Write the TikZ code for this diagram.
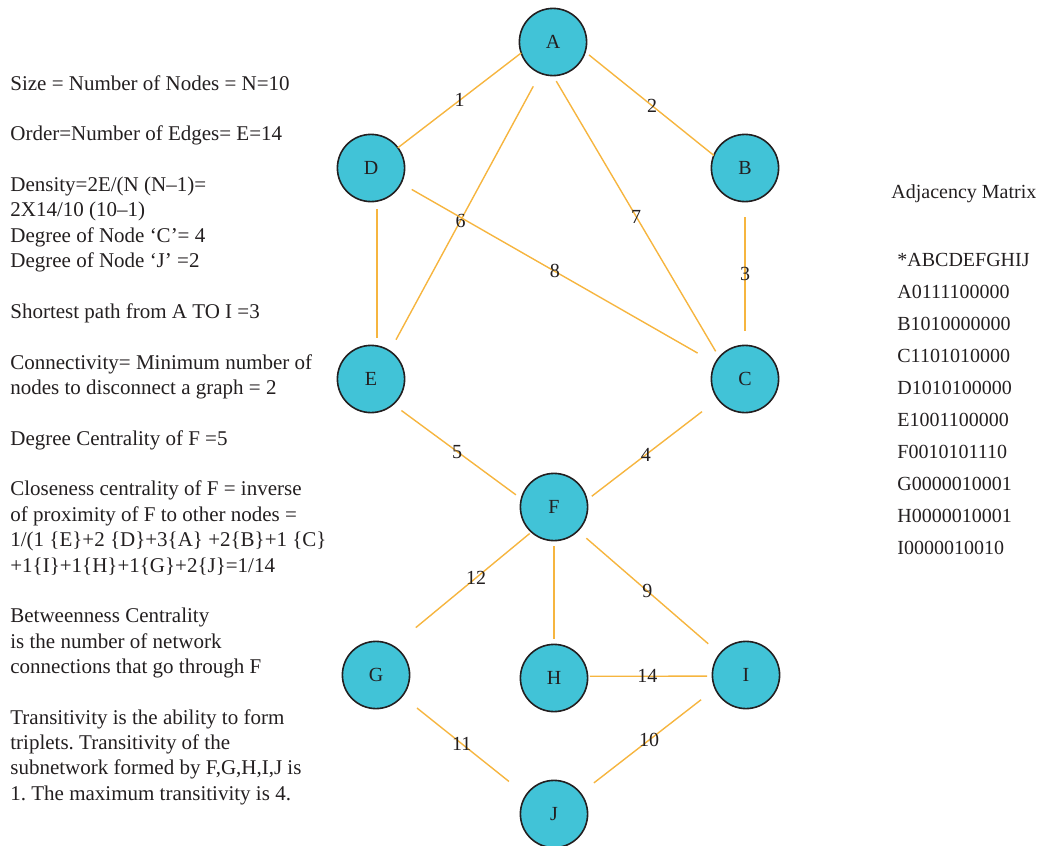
\documentclass[tikz,border=0pt]{standalone}
\usepackage{fontspec}
\setmainfont{Liberation Serif}
\frenchspacing
\definecolor{nodecyan}{HTML}{41C3D7}
\definecolor{edgeorange}{HTML}{F6B53F}
\definecolor{inkgray}{HTML}{231F20}
\tikzset{
  vertex/.style = {circle, draw=inkgray, line width=0.8pt, fill=nodecyan,
                   minimum size=33.6pt, inner sep=0pt, outer sep=0pt,
                   text=inkgray, font=\fontsize{10}{11}\selectfont},
  link/.style   = {draw=edgeorange, line width=0.7pt},
  weight/.style = {inner sep=0pt, text=inkgray, font=\fontsize{10}{12}\selectfont},
  info/.style   = {anchor=north west, align=left, inner sep=0pt, text=inkgray,
                   font=\fontsize{10.5}{12.68}\selectfont},
  adjrows/.style = {anchor=north west, align=left, inner sep=0pt, text=inkgray,
                   font=\fontsize{10}{16}\selectfont},
}

\begin{document}
\begin{tikzpicture}[x=0.5pt, y=-0.5pt]
      \useasboundingbox (0,0) rectangle (1046,846);

      % graph
      \node[vertex] (A) at (553, 42)  {A};
      \node[vertex] (D) at (371, 168) {D};
      \node[vertex] (B) at (745, 168) {B};
      \node[vertex] (E) at (371, 379) {E};
      \node[vertex] (C) at (745, 379) {C};
      \node[vertex] (F) at (554, 507) {F};
      \node[vertex] (G) at (376, 675) {G};
      \node[vertex] (H) at (554, 678) {H};
      \node[vertex] (I) at (746, 675) {I};
      \node[vertex] (J) at (554, 814) {J};

      \draw[link] (A.199) -- node[weight,pos=0.5]{1} (D.37);
      \draw[link, shorten <=2.5pt] (A.-17) -- node[weight,pos=0.52]{2} (B.158);
      \draw[link, shorten <=3.9pt, shorten >=3.9pt] (D.-80) -- (E.80);
      \draw[link, shorten <=7.5pt, shorten >=6.5pt] (A.248) -- node[weight,pos=0.53]{6} (E.56);
      \draw[link, shorten <=3.2pt, shorten >=3.5pt] (A.270) -- node[weight,pos=0.5]{7} (C.140);
      \draw[link, shorten <=6.2pt, shorten >=10.2pt] (D.-27) -- node[weight,pos=0.49]{8} (C.152);
      \draw[link, shorten <=7.7pt, shorten >=7.2pt] (B.-90) -- node[weight,pos=0.5]{3} (C.90);
      \draw[link, shorten <=5.2pt, shorten >=3.4pt] (E.-49) -- node[weight,pos=0.5]{5} (F.166);
      \draw[link, shorten <=10.2pt, shorten >=3.1pt] (C.217) -- node[weight,pos=0.55]{4} (F.12);
      \draw[link, shorten <=1.2pt, shorten >=14.6pt] (F.228) -- node[weight,pos=0.4]{12} (G.59);
      \draw[link, shorten <=2.7pt, shorten >=2.7pt] (F.-90) -- (H.90);
      \draw[link, shorten <=5.7pt, shorten >=7.7pt] (F.-45) -- node[weight,pos=0.49]{9} (I.141);
      \draw[link, shorten <=1.2pt, shorten >=2.7pt] (H.3) -- node[weight,pos=0.48]{14} (I.182);
      \draw[link, shorten <=9.5pt, shorten >=11pt] (G.-39) -- node[weight,pos=0.48]{11} (J.146);
      \draw[link, shorten <=9pt, shorten >=8.5pt] (I.204) -- node[weight,pos=0.49]{10} (J.38);

      % measures
      \node[info] (facts) at (10, 75) {Size = Number of Nodes = N=10\\[12.68pt]
        Order=Number of Edges= E=14\\[12.68pt]
        Density=2E/(N (N--1)=\\
        2X14/10 (10--1)\\
        Degree of Node `C'= 4\\
        Degree of Node `J' =2\\[12.68pt]
        Shortest path from A TO I =3\\[12.68pt]
        Connectivity= Minimum number of\\
        nodes to disconnect a graph = 2\\[12.68pt]
        Degree Centrality of F =5\\[12.68pt]
        Closeness centrality of F = inverse\\
        of proximity of F to other nodes =\\
        1/(1 \{E\}+2 \{D\}+3\{A\} +2\{B\}+1 \{C\}\\
        +1\{I\}+1\{H\}+1\{G\}+2\{J\}=1/14\\[12.68pt]
        Betweenness Centrality\\
        is the number of network\\
        connections that go through F\\[12.68pt]
        Transitivity is the ability to form\\
        triplets. Transitivity of the\\
        subnetwork formed by F,G,H,I,J is\\
        1. The maximum transitivity is 4.};

      % adjacency matrix
      \node[anchor=base west, inner sep=0pt, text=inkgray, font=\fontsize{10}{12}\selectfont]
        (adjtitle) at (891, 198) {Adjacency Matrix};
      \node[adjrows] (adj) at (897, 253) {*ABCDEFGHIJ\\
        A0111100000\\
        B1010000000\\
        C1101010000\\
        D1010100000\\
        E1001100000\\
        F0010101110\\
        G0000010001\\
        H0000010001\\
        I0000010010};
    \end{tikzpicture}
\end{document}
